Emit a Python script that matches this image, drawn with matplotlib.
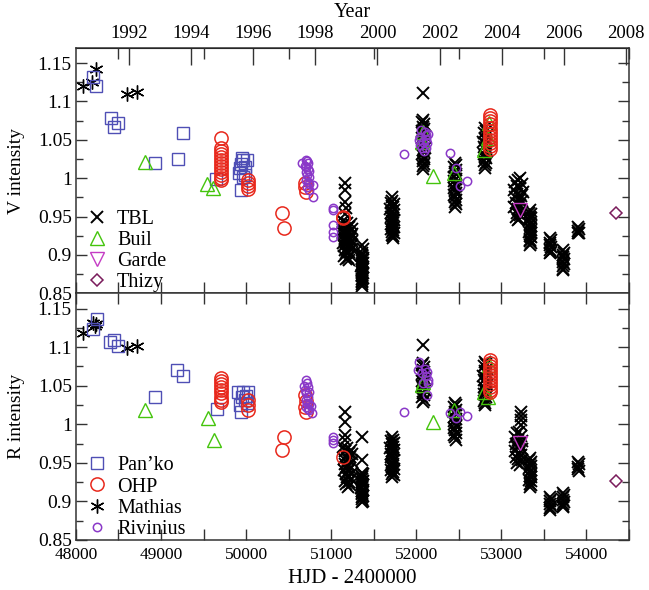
import numpy as np
import matplotlib
matplotlib.use("Agg")
import matplotlib.pyplot as plt
from matplotlib.ticker import MultipleLocator

plt.rcParams["font.family"] = ["Liberation Serif", "DejaVu Serif"]
plt.rcParams["font.size"] = 12.5

# (HJD - 2400000, intensity) pairs per observer, V band then R band
tbl_v = [
    # 1998-99
    (51160, 0.994), (51168, 0.984), (51163, 0.969), (51170, 0.961), (51158, 0.953),
    (51140, 0.944), (51185, 0.942), (51230, 0.940), (51155, 0.938), (51200, 0.936),
    (51245, 0.934), (51170, 0.932), (51215, 0.930), (51145, 0.928), (51190, 0.926),
    (51235, 0.924), (51160, 0.922), (51205, 0.920), (51250, 0.918), (51175, 0.916),
    (51220, 0.914), (51150, 0.912), (51195, 0.910), (51240, 0.908), (51165, 0.906),
    (51210, 0.904), (51180, 0.902), (51225, 0.900), (51155, 0.898), (51200, 0.896),
    (51170, 0.894), (51215, 0.893), (51160, 0.941), (51210, 0.937), (51180, 0.929),
    (51225, 0.921), (51145, 0.915), (51190, 0.905), (51235, 0.911), (51165, 0.919),
    (51140, 0.933), (51250, 0.927),
    (51360, 0.913), (51370, 0.908), (51362, 0.903), (51368, 0.900), (51358, 0.898),
    (51372, 0.896), (51364, 0.894), (51360, 0.892), (51370, 0.890), (51366, 0.888),
    (51356, 0.886), (51374, 0.884), (51362, 0.882), (51368, 0.880), (51358, 0.878),
    (51372, 0.876), (51364, 0.874), (51360, 0.872), (51370, 0.870), (51366, 0.868),
    (51362, 0.866), (51368, 0.864), (51364, 0.862), (51366, 0.860),
    # 2000
    (51715, 0.975), (51720, 0.970), (51700, 0.968), (51735, 0.966), (51712, 0.964),
    (51728, 0.962), (51695, 0.960), (51740, 0.958), (51718, 0.956), (51705, 0.954),
    (51732, 0.952), (51700, 0.950), (51722, 0.948), (51740, 0.946), (51710, 0.944),
    (51730, 0.942), (51698, 0.940), (51720, 0.938), (51738, 0.936), (51706, 0.934),
    (51728, 0.932), (51714, 0.930), (51736, 0.928), (51720, 0.926), (51728, 0.924),
    (51722, 0.922),
    # 2001
    (52080, 1.111), (52082, 1.076), (52070, 1.073), (52095, 1.070), (52078, 1.067),
    (52090, 1.064), (52065, 1.061), (52085, 1.058), (52100, 1.055), (52072, 1.052),
    (52092, 1.049), (52068, 1.046), (52084, 1.043), (52098, 1.040), (52076, 1.037),
    (52090, 1.034), (52070, 1.031), (52086, 1.028), (52096, 1.025), (52074, 1.022),
    (52088, 1.019), (52080, 1.016), (52084, 1.012),
    # 2002
    (52455, 1.020), (52465, 1.017), (52445, 1.014), (52470, 1.011), (52452, 1.008),
    (52462, 1.005), (52442, 1.002), (52468, 0.999), (52450, 0.996), (52460, 0.993),
    (52472, 0.990), (52448, 0.987), (52458, 0.984), (52466, 0.981), (52444, 0.978),
    (52456, 0.975), (52470, 0.972), (52452, 0.969), (52462, 0.966), (52457, 0.963),
    # 2003
    (52808, 1.065), (52820, 1.062), (52795, 1.059), (52830, 1.056), (52805, 1.053),
    (52818, 1.050), (52790, 1.047), (52826, 1.044), (52800, 1.041), (52815, 1.038),
    (52832, 1.035), (52796, 1.032), (52810, 1.029), (52824, 1.026), (52802, 1.023),
    (52816, 1.020), (52808, 1.017), (52812, 1.013),
    # 2004
    (53225, 1.000), (53200, 0.997), (53160, 0.995), (53240, 0.992), (53180, 0.990),
    (53215, 0.987), (53150, 0.985), (53250, 0.982), (53190, 0.980), (53230, 0.977),
    (53165, 0.975), (53210, 0.972), (53245, 0.970), (53175, 0.967), (53220, 0.965),
    (53155, 0.962), (53200, 0.960), (53235, 0.957), (53185, 0.955), (53225, 0.952),
    (53170, 0.950), (53210, 0.947), (53195, 0.945),
    (53340, 0.958), (53330, 0.955), (53350, 0.953), (53335, 0.950), (53355, 0.948),
    (53325, 0.945), (53345, 0.943), (53338, 0.940), (53352, 0.938), (53332, 0.935),
    (53345, 0.933), (53328, 0.930), (53350, 0.928), (53336, 0.925), (53355, 0.923),
    (53342, 0.920), (53332, 0.918), (53348, 0.915), (53340, 0.913),
    # 2005-06
    (53570, 0.922), (53582, 0.919), (53575, 0.916), (53568, 0.913), (53585, 0.910),
    (53572, 0.907), (53580, 0.904), (53576, 0.902),
    (53725, 0.906), (53735, 0.903), (53728, 0.900), (53720, 0.897), (53733, 0.894),
    (53727, 0.891), (53738, 0.888), (53722, 0.885), (53730, 0.882), (53726, 0.880),
    (53900, 0.936), (53912, 0.934), (53905, 0.931), (53898, 0.929), (53910, 0.928),
]
tbl_r = [
    (51165, 1.016), (51162, 1.003), (51168, 0.986), (51160, 0.980),
    (51145, 0.971), (51190, 0.969), (51235, 0.967), (51160, 0.965), (51205, 0.963),
    (51250, 0.961), (51175, 0.959), (51220, 0.957), (51150, 0.955), (51195, 0.953),
    (51240, 0.951), (51165, 0.949), (51210, 0.947), (51180, 0.945), (51225, 0.943),
    (51155, 0.941), (51200, 0.939), (51245, 0.937), (51170, 0.935), (51215, 0.933),
    (51185, 0.931), (51230, 0.929), (51160, 0.927), (51205, 0.925), (51175, 0.923),
    (51220, 0.921), (51195, 0.919),
    (51365, 0.984), (51362, 0.954),
    (51360, 0.937), (51370, 0.935), (51362, 0.933), (51368, 0.931), (51358, 0.929),
    (51372, 0.927), (51364, 0.925), (51360, 0.923), (51370, 0.921), (51366, 0.919),
    (51356, 0.917), (51374, 0.915), (51362, 0.913), (51368, 0.911), (51358, 0.909),
    (51372, 0.907), (51364, 0.905), (51360, 0.903), (51370, 0.901), (51366, 0.899),
    (51718, 0.984), (51722, 0.980), (51700, 0.978), (51735, 0.976), (51712, 0.974),
    (51728, 0.971), (51695, 0.969), (51740, 0.967), (51718, 0.965), (51705, 0.962),
    (51732, 0.960), (51700, 0.958), (51722, 0.956), (51740, 0.953), (51710, 0.951),
    (51730, 0.949), (51698, 0.947), (51720, 0.944), (51738, 0.942), (51706, 0.940),
    (51728, 0.938), (51714, 0.936), (51736, 0.934), (51720, 0.931),
    (52080, 1.103),
    (52082, 1.080), (52070, 1.077), (52095, 1.074), (52078, 1.071), (52090, 1.068),
    (52065, 1.065), (52085, 1.062), (52100, 1.059), (52072, 1.056), (52092, 1.053),
    (52068, 1.050), (52084, 1.047), (52098, 1.044), (52076, 1.041), (52090, 1.038),
    (52070, 1.035), (52086, 1.032), (52080, 1.029),
    (52455, 1.028), (52465, 1.025), (52445, 1.022), (52470, 1.019), (52452, 1.016),
    (52462, 1.013), (52442, 1.010), (52468, 1.007), (52450, 1.004), (52460, 1.001),
    (52472, 0.998), (52448, 0.995), (52458, 0.992), (52466, 0.989), (52444, 0.986),
    (52456, 0.983), (52462, 0.980),
    (52808, 1.081), (52820, 1.078), (52795, 1.075), (52830, 1.072), (52805, 1.069),
    (52818, 1.066), (52790, 1.063), (52826, 1.060), (52800, 1.057), (52815, 1.054),
    (52832, 1.051), (52796, 1.048), (52810, 1.045), (52824, 1.042), (52802, 1.039),
    (52816, 1.036), (52808, 1.033), (52798, 1.030), (52812, 1.027), (52805, 1.025),
    (53230, 1.016), (53235, 1.011), (53232, 1.006), (53228, 0.999),
    (53210, 0.990), (53180, 0.988), (53235, 0.985), (53160, 0.983), (53200, 0.980),
    (53245, 0.978), (53170, 0.975), (53220, 0.973), (53190, 0.970), (53240, 0.968),
    (53165, 0.965), (53210, 0.963), (53230, 0.960), (53175, 0.958), (53200, 0.955),
    (53240, 0.953), (53185, 0.950), (53225, 0.947),
    (53340, 0.956), (53330, 0.953), (53350, 0.951), (53335, 0.948), (53355, 0.946),
    (53325, 0.943), (53345, 0.941), (53338, 0.938), (53352, 0.936), (53332, 0.933),
    (53345, 0.931), (53328, 0.928), (53350, 0.926), (53336, 0.923), (53355, 0.921),
    (53342, 0.918),
    (53570, 0.906), (53582, 0.903), (53575, 0.900), (53568, 0.897), (53585, 0.894),
    (53572, 0.891), (53578, 0.889),
    (53725, 0.911), (53735, 0.908), (53728, 0.905), (53720, 0.902), (53733, 0.899),
    (53727, 0.896), (53731, 0.894), (53725, 0.892),
    (53900, 0.951), (53910, 0.948), (53905, 0.945), (53898, 0.942), (53908, 0.939),
]

buil_v = [(48812, 1.021), (49541, 0.992), (49612, 0.987), (52082, 1.060),
          (52070, 1.047), (52200, 1.003), (52447, 1.007), (52800, 1.037),
          (52840, 1.052), (52860, 1.072)]
buil_r = [(48812, 1.019), (49553, 1.008), (49624, 0.979), (52082, 1.055),
          (52070, 1.051), (52200, 1.003), (52447, 1.019), (52800, 1.042),
          (52840, 1.036), (52860, 1.077)]

garde_v = [(53224, 0.958)]
garde_r = [(53224, 0.976)]

thizy_v = [(54353, 0.954)]
thizy_r = [(54353, 0.927)]

panko_v = [(48200, 1.132), (48235, 1.120), (48412, 1.078), (48447, 1.067),
           (48494, 1.072), (48929, 1.020), (49200, 1.025), (49259, 1.059),
           (49647, 0.999), (49953, 1.026), (49965, 1.024), (49929, 1.013),
           (49920, 1.007), (49985, 1.004), (49940, 0.984), (49990, 1.015),
           (50012, 1.024), (49960, 1.001), (49935, 1.018)]
panko_r = [(48247, 1.137), (48200, 1.123), (48400, 1.107), (48447, 1.109),
           (48494, 1.101), (48929, 1.036), (49188, 1.071), (49259, 1.062),
           (49659, 1.020), (49906, 1.042), (49965, 1.042), (50024, 1.042),
           (49929, 1.025), (49941, 1.016), (49988, 1.032), (50000, 1.037),
           (49950, 1.035), (50010, 1.028)]

ohp_v = [(49706, 1.052), (49706, 1.040), (49706, 1.036), (49706, 1.032),
         (49706, 1.028), (49706, 1.024), (49706, 1.020), (49706, 1.016),
         (49706, 1.012), (49706, 1.008), (49706, 1.004), (49706, 1.000),
         (49706, 0.997),
         (50024, 0.998), (50024, 0.994), (50024, 0.990), (50024, 0.986),
         (50424, 0.955), (50447, 0.935),
         (50694, 0.994), (50694, 0.988), (50706, 0.982),
         (51141, 0.948), (51141, 0.950),
         (52870, 1.082), (52870, 1.078), (52870, 1.074), (52868, 1.070),
         (52872, 1.066), (52870, 1.062), (52868, 1.058), (52872, 1.054),
         (52870, 1.050), (52868, 1.046), (52872, 1.042), (52870, 1.038)]
ohp_r = [(49706, 1.060), (49706, 1.056), (49706, 1.052), (49706, 1.048),
         (49706, 1.044), (49706, 1.040), (49706, 1.036), (49706, 1.032),
         (49706, 1.029),
         (50024, 1.032), (50024, 1.025), (50024, 1.018),
         (50447, 0.984), (50424, 0.967),
         (50694, 1.038), (50700, 1.030), (50694, 1.022), (50706, 1.016),
         (51141, 0.957),
         (52870, 1.084), (52870, 1.080), (52870, 1.076), (52868, 1.072),
         (52872, 1.068), (52870, 1.064), (52868, 1.060), (52872, 1.056),
         (52870, 1.052), (52868, 1.048), (52872, 1.045), (52870, 1.042)]

mathias_v = [(48082, 1.120), (48190, 1.125), (48235, 1.142), (48600, 1.110),
             (48718, 1.112)]
mathias_r = [(48082, 1.119), (48200, 1.132), (48220, 1.128), (48240, 1.130),
             (48600, 1.099), (48718, 1.102)]

rivinius_v = [(50659, 1.020), (50700, 1.024), (50715, 1.022), (50730, 1.020),
              (50690, 1.016), (50710, 1.014), (50725, 1.012), (50740, 1.010),
              (50700, 1.008), (50720, 1.004), (50735, 1.002), (50710, 0.998),
              (50730, 0.995), (50745, 0.992), (50715, 0.989), (50740, 0.985),
              (50788, 0.991), (50788, 0.976),
              (51024, 0.961), (51024, 0.959), (51024, 0.939), (51024, 0.930),
              (51024, 0.923),
              (51859, 1.031),
              (52035, 1.050), (52047, 1.043), (52059, 1.063), (52106, 1.060),
              (52118, 1.056), (52118, 1.051), (52082, 1.047), (52071, 1.039),
              (52118, 1.039), (52045, 1.054), (52140, 1.058), (52130, 1.046),
              (52090, 1.035),
              (52400, 1.033), (52470, 1.013), (52518, 0.990), (52600, 0.996)]
rivinius_r = [(50680, 1.050), (50700, 1.058), (50715, 1.054), (50730, 1.048),
              (50690, 1.044), (50710, 1.040), (50725, 1.036), (50740, 1.042),
              (50700, 1.032), (50720, 1.028), (50735, 1.026), (50710, 1.022),
              (50730, 1.020), (50745, 1.018), (50760, 1.024), (50770, 1.015),
              (51024, 0.984), (51024, 0.980), (51024, 0.976),
              (51859, 1.016),
              (52035, 1.081), (52024, 1.071), (52106, 1.072), (52130, 1.068),
              (52118, 1.062), (52140, 1.058), (52140, 1.054), (52082, 1.054),
              (52130, 1.038), (52070, 1.066),
              (52400, 1.015), (52470, 1.008), (52518, 1.016), (52600, 1.011)]

year_ticks = [1992, 1994, 1996, 1998, 2000, 2002, 2004, 2006, 2008]


def hjd_to_year(hjd):
    return 2000.0 + (np.asarray(hjd, dtype=float) - 51544.5) / 365.25


def year_to_hjd(year):
    return 51544.5 + (np.asarray(year, dtype=float) - 2000.0) * 365.25


styles = {
    "TBL": dict(marker="x", color="black", ms=8, mew=1.4),
    "Buil": dict(marker="^", color="#44c40c", ms=9.5, mew=1.0),
    "Garde": dict(marker="v", color="#c43cc4", ms=9.5, mew=1.0),
    "Thizy": dict(marker="D", color="#7a1c5c", ms=6.5, mew=1.1),
    "Pan\u2019ko": dict(marker="s", color="#4f4fb5", ms=8.5, mew=1.0),
    "OHP": dict(marker="o", color="#e8281c", ms=9.5, mew=1.1),
    "Mathias": dict(marker=(6, 2, 0), color="black", ms=10, mew=1.0),
    "Rivinius": dict(marker="o", color="#8a38c8", ms=6, mew=1.1),
}
series_v = {"TBL": tbl_v, "Mathias": mathias_v, "Pan\u2019ko": panko_v,
            "Buil": buil_v, "OHP": ohp_v, "Rivinius": rivinius_v,
            "Garde": garde_v, "Thizy": thizy_v}
series_r = {"TBL": tbl_r, "Mathias": mathias_r, "Pan\u2019ko": panko_r,
            "Buil": buil_r, "OHP": ohp_r, "Rivinius": rivinius_r,
            "Garde": garde_r, "Thizy": thizy_r}

fig = plt.figure(figsize=(6.49, 5.90), dpi=100)
ax_v = fig.add_axes([0.117, 0.503, 0.852, 0.416])
ax_r = fig.add_axes([0.117, 0.085, 0.852, 0.418], sharex=ax_v)

handles = {}
for ax, series in ((ax_v, series_v), (ax_r, series_r)):
    for name, pts in series.items():
        st = styles[name]
        x, y = np.array(pts).T
        filled = st["marker"] in ("x", (6, 2, 0))
        (h,) = ax.plot(x, y, ls="none", marker=st["marker"], ms=st["ms"],
                       mew=st["mew"], mec=st["color"],
                       mfc=st["color"] if filled else "none",
                       label=name)
        handles[name] = h

for ax in (ax_v, ax_r):
    ax.set_xlim(48000, 54500)
    ax.set_ylim(0.85, 1.17)
    ax.yaxis.set_major_locator(MultipleLocator(0.05))
    ax.yaxis.set_minor_locator(MultipleLocator(0.025))
    ax.xaxis.set_major_locator(MultipleLocator(1000))
    ax.xaxis.set_minor_locator(MultipleLocator(500))
    ax.tick_params(which="both", direction="in", right=True, top=True,
                   color="#333333", width=1.0)
    ax.tick_params(which="major", length=8)
    ax.tick_params(which="minor", length=5)
    ax.tick_params(axis="x", which="minor", length=8)
    ax.tick_params(axis="x", pad=5.5)
    ax.tick_params(axis="y", labelsize=14, pad=3)
    for sp in ax.spines.values():
        sp.set_color("#333333")
        sp.set_linewidth(1.1)
    ax.yaxis.set_major_formatter(
        plt.FuncFormatter(lambda v, p: f"{v:.3f}".rstrip("0").rstrip(".")))

ax_v.tick_params(labelbottom=False, top=False)
ax_r.tick_params(labeltop=False)

# calendar years along the top
sec = ax_v.secondary_xaxis("top", functions=(hjd_to_year, year_to_hjd))
sec.set_xticks(year_ticks)
sec.set_xticklabels([str(y) for y in year_ticks])
sec.tick_params(direction="in", length=12, width=1.0, color="#333333", pad=4,
                labelsize=13.5)
sec.set_xlabel("Year", labelpad=6, fontsize=14.5)

ax_v.set_ylabel("V intensity", labelpad=9, fontsize=14)
ax_r.set_ylabel("R intensity", labelpad=9, fontsize=14)
ax_r.set_xlabel("HJD - 2400000", labelpad=4, fontsize=15)

leg_kw = dict(loc="lower left", frameon=False, borderaxespad=0.1,
              handletextpad=0.5, labelspacing=0.1, handlelength=1.0,
              borderpad=0.2, fontsize=14.5)
ax_v.legend([handles[n] for n in ("TBL", "Buil", "Garde", "Thizy")],
            ["TBL", "Buil", "Garde", "Thizy"], bbox_to_anchor=(0.009, -0.02),
            **leg_kw)
ax_r.legend([handles[n] for n in ("Pan\u2019ko", "OHP", "Mathias", "Rivinius")],
            ["Pan\u2019ko", "OHP", "Mathias", "Rivinius"],
            bbox_to_anchor=(0.009, -0.02), **leg_kw)

fig.savefig("out.png", dpi=100)
